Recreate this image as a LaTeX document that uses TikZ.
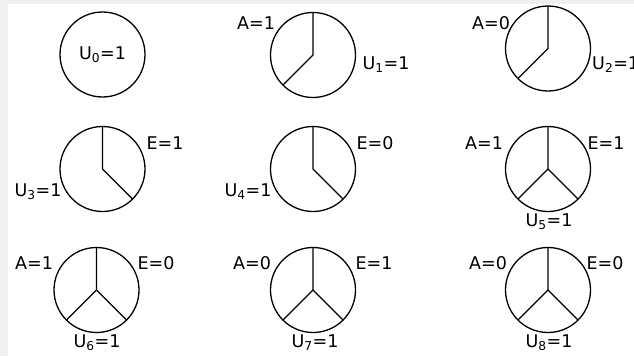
\documentclass[tikz,border=0pt]{standalone}
\usepackage{fontspec}
\setmainfont{DejaVu Sans}
\begin{document}
\begin{tikzpicture}[x=1pt,y=-1pt,
  ring/.style={draw,circle,line width=1.3pt,minimum size=85pt,inner sep=0pt,outer sep=0pt},
  spoke/.style={line width=1.3pt,line join=round},
  lab/.style={font=\fontsize{17.5}{19}\selectfont,inner sep=0pt}]
\useasboundingbox (0,0) rectangle (634,356);
\fill[white] (0,0) rectangle (634,356);
\fill[black!6] (0,0) rectangle (634,4);
\fill[black!6] (0,0) rectangle (8,356);
% row 1
\node[ring,font=\fontsize{17.5}{19}\selectfont] (c0) at (102.5,54.5) {U\textsubscript{0}=1};
\node[ring] (c1) at (313,55) {};
\draw[spoke] (c1.north) -- (c1.center) -- (c1.south west);
\node[lab] (a1) at (256,23) {A=1};
\node[lab] (u1) at (386,65) {U\textsubscript{1}=1};
\node[ring] (c2) at (548,48.5) {};
\draw[spoke] (c2.north) -- (c2.center) -- (c2.south west);
\node[lab] (a2) at (491,23) {A=0};
\node[lab,anchor=west] (u2) at (592,65) {U\textsubscript{2}=1};
% row 2
\node[ring] (c3) at (102.5,169) {};
\draw[spoke] (c3.north) -- (c3.center) -- (c3.south east);
\node[lab] (e3) at (165,143) {E=1};
\node[lab] (u3) at (38,192) {U\textsubscript{3}=1};
\node[ring] (c4) at (313,169) {};
\draw[spoke] (c4.north) -- (c4.center) -- (c4.south east);
\node[lab] (e4) at (375,143) {E=0};
\node[lab] (u4) at (248,192) {U\textsubscript{4}=1};
\node[ring] (c5) at (548,169) {};
\draw[spoke] (c5.north) -- (c5.center) -- (c5.south east);
\draw[spoke] (c5.center) -- (c5.south west);
\node[lab] (a5) at (484,143) {A=1};
\node[lab] (e5) at (606,143) {E=1};
\node[lab] (u5) at (549,222) {U\textsubscript{5}=1};
% row 3
\node[ring] (c6) at (96.5,290) {};
\draw[spoke] (c6.north) -- (c6.center) -- (c6.south east);
\draw[spoke] (c6.center) -- (c6.south west);
\node[lab] (a6) at (34,263) {A=1};
\node[lab] (e6) at (156,263) {E=0};
\node[lab] (u6) at (97,343) {U\textsubscript{6}=1};
\node[ring] (c7) at (313,290) {};
\draw[spoke] (c7.north) -- (c7.center) -- (c7.south east);
\draw[spoke] (c7.center) -- (c7.south west);
\node[lab] (a7) at (252,263) {A=0};
\node[lab] (e7) at (374,263) {E=1};
\node[lab] (u7) at (315,343) {U\textsubscript{7}=1};
\node[ring] (c8) at (548,290) {};
\draw[spoke] (c8.north) -- (c8.center) -- (c8.south east);
\draw[spoke] (c8.center) -- (c8.south west);
\node[lab] (a8) at (488,263) {A=0};
\node[lab] (e8) at (605,263) {E=0};
\node[lab] (u8) at (549,343) {U\textsubscript{8}=1};
\end{tikzpicture}
\end{document}
